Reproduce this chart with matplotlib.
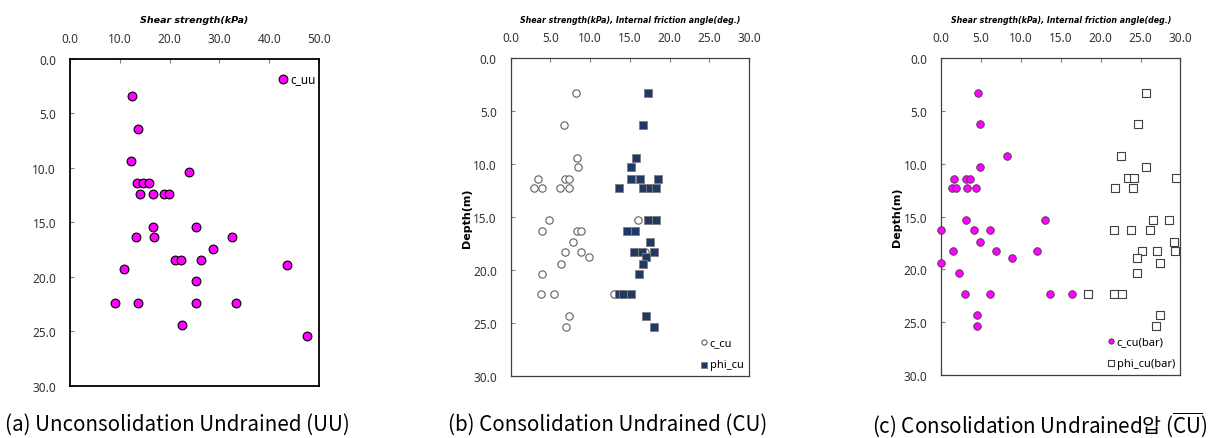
import matplotlib
matplotlib.use('Agg')
import matplotlib.pyplot as plt

plt.rcParams['font.family'] = ['Noto Sans', 'DejaVu Sans']
plt.rcParams['mathtext.fontset'] = 'custom'
plt.rcParams['mathtext.rm'] = 'Noto Sans CJK KR'

# (a) UU test
uu_c = [12.5, 13.7, 12.2, 23.9, 13.5, 14.7, 15.8, 14.0, 16.7, 18.9, 19.8,
        16.6, 25.3, 13.2, 16.9, 32.6, 28.8, 21.1, 22.3, 26.3, 43.5, 10.8,
        25.3, 9.0, 13.6, 25.4, 33.4, 22.4, 47.5]
uu_depth = [3.4, 6.4, 9.4, 10.4, 11.4, 11.4, 11.4, 12.4, 12.4, 12.4, 12.4,
            15.4, 15.4, 16.3, 16.3, 16.3, 17.4, 18.4, 18.4, 18.4, 18.9, 19.3,
            20.4, 22.4, 22.4, 22.4, 22.4, 24.4, 25.4]

# (b) CU test
cu_c = [8.2, 6.7, 8.3, 8.5, 3.4, 6.8, 7.3, 3.0, 4.0, 6.2, 7.4, 4.8, 16.0,
        3.9, 8.4, 8.8, 7.8, 6.8, 8.9, 16.9, 9.9, 6.3, 4.0, 3.8, 5.5, 13.0,
        7.4, 7.0]
cu_c_depth = [3.3, 6.3, 9.4, 10.3, 11.4, 11.4, 11.4, 12.3, 12.3, 12.3, 12.3,
              15.3, 15.3, 16.3, 16.3, 16.3, 17.4, 18.3, 18.3, 18.3, 18.8,
              19.4, 20.4, 22.3, 22.3, 22.3, 24.4, 25.4]
cu_phi = [17.3, 16.6, 15.8, 15.2, 15.1, 16.3, 18.5, 13.7, 16.7, 17.6, 18.3,
          17.3, 18.3, 14.7, 15.7, 17.6, 15.5, 16.5, 18.0, 17.1, 16.6, 16.1,
          13.6, 14.2, 15.1, 17.0, 18.0]
cu_phi_depth = [3.3, 6.3, 9.4, 10.3, 11.4, 11.4, 11.4, 12.3, 12.3, 12.3, 12.3,
                15.3, 15.3, 16.3, 16.3, 17.4, 18.3, 18.3, 18.3, 18.8, 19.4,
                20.4, 22.3, 22.3, 22.3, 24.4, 25.4]

# (c) CU-bar test
cub_c = [4.6, 4.85, 8.2, 4.85, 1.55, 3.1, 3.55, 1.3, 1.85, 3.2, 4.3, 3.1,
         13.05, 0.0, 4.05, 6.15, 4.9, 1.45, 6.9, 12.05, 8.9, 0.0, 2.2, 3.0,
         6.15, 13.65, 16.35, 4.45, 4.45]
cub_c_depth = [3.3, 6.2, 9.3, 10.3, 11.4, 11.4, 11.4, 12.3, 12.3, 12.3, 12.3,
               15.3, 15.3, 16.3, 16.3, 16.3, 17.4, 18.3, 18.3, 18.3, 18.9,
               19.4, 20.3, 22.3, 22.3, 22.3, 22.3, 24.3, 25.4]
cub_phi = [25.65, 24.7, 22.6, 25.7, 23.4, 24.15, 29.5, 21.85, 24.05, 26.55,
           28.6, 21.7, 23.75, 26.25, 29.15, 25.15, 27.05, 29.35, 24.5, 27.5,
           24.5, 18.35, 21.65, 22.7, 27.5, 26.9]
cub_phi_depth = [3.3, 6.2, 9.3, 10.3, 11.3, 11.3, 11.3, 12.3, 12.3, 15.3,
                 15.3, 16.3, 16.3, 16.3, 17.4, 18.3, 18.3, 18.3, 18.9, 19.4,
                 20.3, 22.3, 22.3, 22.3, 24.3, 25.4]

captions = ['(a) Unconsolidation Undrained (UU)',
            '(b) Consolidation Undrained (CU)',
            r'(c) Consolidation Undrained압 ($\overline{\mathrm{CU}}$)']

fig = plt.figure(figsize=(12.17, 4.39), dpi=100)

def setup(ax, xmax, xstep, xlabel, xlfs, depth_label, spine_col, spine_w):
    ax.set_xlim(0, xmax)
    ax.set_ylim(30, 0)
    ax.xaxis.tick_top()
    ax.xaxis.set_label_position('top')
    ax.set_xticks([i * xstep for i in range(int(xmax / xstep) + 1)])
    ax.set_yticks([0, 5, 10, 15, 20, 25, 30])
    ax.xaxis.set_major_formatter(matplotlib.ticker.FormatStrFormatter('%.1f'))
    ax.yaxis.set_major_formatter(matplotlib.ticker.FormatStrFormatter('%.1f'))
    ax.tick_params(axis='both', direction='in', length=3, width=0.8,
                   color='#808080', labelsize=8.5, labelcolor='#333333', pad=10)
    for s in ax.spines.values():
        s.set_color(spine_col)
        s.set_linewidth(spine_w)
    ax.set_xlabel(xlabel, fontsize=xlfs, fontweight='bold', fontstyle='italic',
                  family='DejaVu Sans', labelpad=7)
    if depth_label:
        ax.set_ylabel('Depth(m)', fontsize=8, fontweight='bold',
                      family='DejaVu Sans', labelpad=1)

ax1 = fig.add_axes([0.0575, 0.1185, 0.2046, 0.7449])
setup(ax1, 50, 10, 'Shear strength(kPa)', 6.8, False, 'black', 1.3)
ax1.scatter(uu_c, uu_depth, s=40, c='#FF00FF', edgecolors='black',
            linewidths=0.8, label='c_uu', zorder=3)
ax1.legend(loc='upper right', bbox_to_anchor=(1.02, 0.985), frameon=False,
           fontsize=8.5, handletextpad=0.1, handlelength=1.0, borderaxespad=0.3)

ax2 = fig.add_axes([0.4196, 0.1419, 0.1958, 0.7230])
setup(ax2, 30, 5, 'Shear strength(kPa), Internal friction angle(deg.)', 5.7,
      True, '#404040', 0.9)
ax2.scatter(cu_c, cu_c_depth, s=28, facecolors='white', edgecolors='#606060',
            linewidths=0.8, label='c_cu', zorder=3)
ax2.scatter(cu_phi, cu_phi_depth, s=30, marker='s', c='#1F3864',
            edgecolors='#7F7F7F', linewidths=0.6, label='phi_cu', zorder=4)
ax2.legend(loc='lower right', bbox_to_anchor=(1.02, -0.015), frameon=False,
           fontsize=8, handletextpad=0.0, handlelength=1.0, labelspacing=1.0,
           markerscale=0.7)

ax3 = fig.add_axes([0.7735, 0.1435, 0.1964, 0.7214])
setup(ax3, 30, 5, 'Shear strength(kPa), Internal friction angle(deg.)', 5.7,
      True, '#404040', 0.9)
ax3.scatter(cub_c, cub_c_depth, s=30, c='#FF00FF', edgecolors='#404040',
            linewidths=0.6, label='c_cu(bar)', zorder=3, clip_on=False)
ax3.scatter(cub_phi, cub_phi_depth, s=30, marker='s', facecolors='white',
            edgecolors='#404040', linewidths=0.8, label='phi_cu(bar)', zorder=4)
ax3.legend(loc='lower right', bbox_to_anchor=(1.02, -0.012), frameon=False,
           fontsize=8, handletextpad=0.0, handlelength=1.0, labelspacing=1.0,
           markerscale=0.7)

for x, cap in zip([177 / 1217, 608 / 1217, 1040 / 1217], captions):
    fig.text(x, 1 - 425 / 439, cap, ha='center', va='center', fontsize=14.8,
             family=['Noto Sans CJK KR', 'DejaVu Sans'])

fig.savefig('out.png', dpi=100)
